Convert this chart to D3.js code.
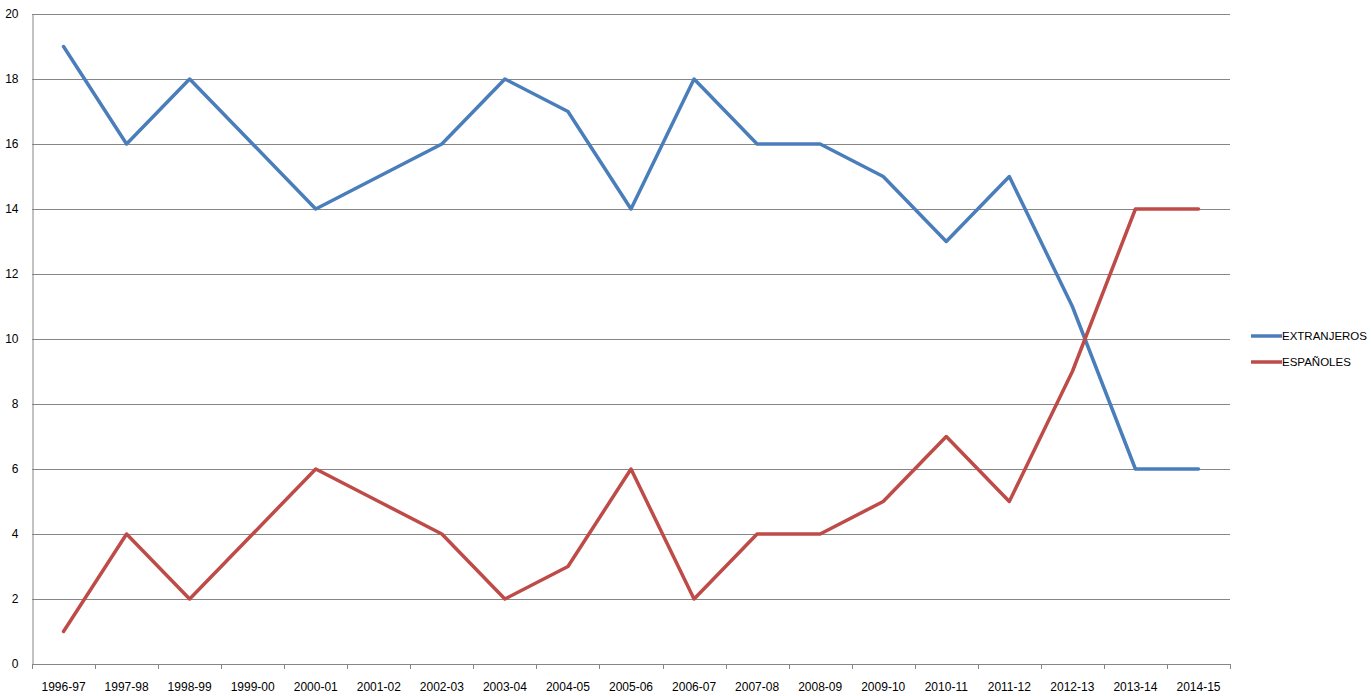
<!DOCTYPE html>
<html><head><meta charset="utf-8">
<script src="https://cdn.jsdelivr.net/npm/d3@7"></script>
<style>body{margin:0;background:#fff;}svg{display:block;font-family:"Liberation Sans","DejaVu Sans",sans-serif;}</style>
</head><body>
<svg id="chart" width="1371" height="696"></svg>
<script>
const categories = ["1996-97","1997-98","1998-99","1999-00","2000-01","2001-02","2002-03","2003-04","2004-05","2005-06","2006-07","2007-08","2008-09","2009-10","2010-11","2011-12","2012-13","2013-14","2014-15"];
const extranjeros = [19,16,18,16,14,15,16,18,17,14,18,16,16,15,13,15,11,6,6];
const espanoles = [1,4,2,4,6,5,4,2,3,6,2,4,4,5,7,5,9,14,14];
const yTicks = [0,2,4,6,8,10,12,14,16,18,20];
const seriesNames = ["EXTRANJEROS","ESPAÑOLES"];
const colors = ["#4a7ebb","#be4b48"];

(function(){
const svg = d3.select("#chart");
const mLeft = 32, mRight = 1230, mTop = 14, mBottom = 664;
const x = d3.scaleBand().domain(categories).range([mLeft, mRight]).padding(0);
const y = d3.scaleLinear().domain([0,20]).range([mBottom, mTop]);
const gridColor = "#868686";

svg.append("g").selectAll("line").data(yTicks.filter(d=>d>0)).join("line")
  .attr("x1", mLeft).attr("x2", mRight)
  .attr("y1", d=>Math.round(y(d))+0.5).attr("y2", d=>Math.round(y(d))+0.5)
  .attr("stroke", gridColor).attr("stroke-width",1);

const yAxis = svg.append("g").attr("transform",`translate(${mLeft+0.5},0)`)
  .call(d3.axisLeft(y).tickValues(yTicks).tickSize(0).tickPadding(14));
yAxis.select(".domain").attr("stroke", gridColor);
yAxis.selectAll("text").attr("font-size",12).attr("fill","#000");
yAxis.selectAll("line").remove();

const xAxis = svg.append("g").attr("transform",`translate(0,${mBottom+0.5})`)
  .call(d3.axisBottom(x).tickSize(0).tickPadding(18));
xAxis.select(".domain").attr("stroke", gridColor).attr("d", `M${mLeft},0H${mRight}`);
xAxis.selectAll("text").attr("font-size",12).attr("fill","#000");
const bounds = categories.map(c=>x(c)).concat([mRight]);
svg.append("g").selectAll("line").data(bounds).join("line")
  .attr("x1", d=>Math.round(d)+0.5).attr("x2", d=>Math.round(d)+0.5)
  .attr("y1", mBottom).attr("y2", mBottom+5)
  .attr("stroke", gridColor);

const line = d3.line().x((d,i)=>x(categories[i])+x.bandwidth()/2).y(d=>y(d));
[extranjeros, espanoles].forEach((s,i)=>{
  svg.append("path").datum(s).attr("d", line).attr("fill","none")
    .attr("stroke", colors[i]).attr("stroke-width",3.5)
    .attr("stroke-linejoin","round").attr("stroke-linecap","round");
});

seriesNames.forEach((n,i)=>{
  const ly = 336 + i*26;
  svg.append("line").attr("x1",1251).attr("x2",1282).attr("y1",ly).attr("y2",ly)
    .attr("stroke",colors[i]).attr("stroke-width",3.5);
  svg.append("text").attr("x",1282).attr("y",ly+4).attr("font-size",11.5).attr("fill","#000").text(n);
});
})();
</script>
</body></html>
